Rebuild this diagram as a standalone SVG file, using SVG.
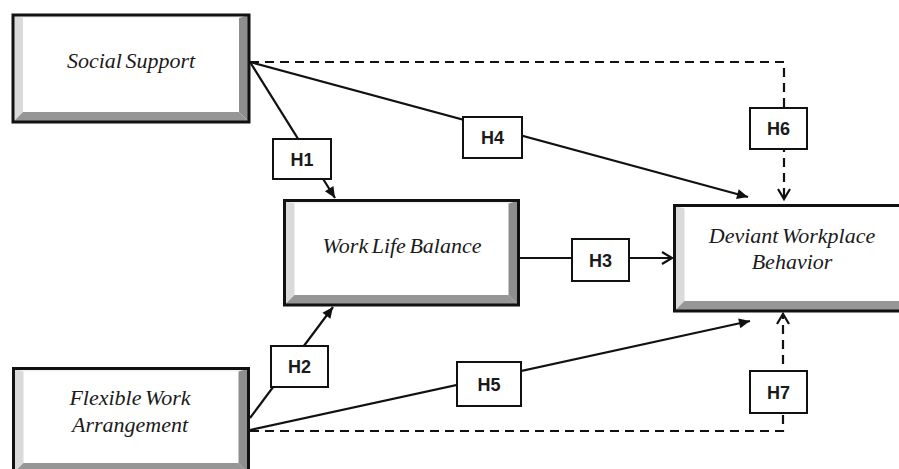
<svg xmlns="http://www.w3.org/2000/svg" width="899" height="469" viewBox="0 0 899 469">
<style>
.face{fill:#ffffff}
.bl{fill:#dadada}
.bt{fill:#f2f2f2}
.br{fill:#8e8e8e}
.bb{fill:#969696}
.border{fill:none;stroke:#111;stroke-width:3}
.lbl{font-family:"Liberation Serif","Times New Roman",serif;font-style:italic;font-size:22px;fill:#1a1a1a;text-anchor:middle;word-spacing:-2px}
.hbox{fill:#fff;stroke:#111;stroke-width:2}
.htxt{font-family:"Liberation Sans",Arial,sans-serif;font-weight:bold;font-size:18px;fill:#1a1a1a;text-anchor:middle}
.ln{fill:none;stroke:#111;stroke-width:2.2}
.dash{stroke-dasharray:9 6}
</style>
<defs>
<marker id="fa" markerUnits="userSpaceOnUse" markerWidth="12" markerHeight="12" refX="11" refY="5" orient="auto" overflow="visible">
<path d="M0,0 L11,5 L0,10 Z" fill="#111" stroke="none"/>
</marker>
<marker id="oa" markerUnits="userSpaceOnUse" markerWidth="12" markerHeight="12" refX="10" refY="6" orient="auto" overflow="visible">
<path d="M0,0 L10,6 L0,12" fill="none" stroke="#111" stroke-width="2.2" stroke-dasharray="none"/>
</marker>
</defs>

<g id="connectors">
<path class="ln" d="M250,62 L335,198" marker-end="url(#fa)"/>
<path class="ln" d="M250,62 L748,197" marker-end="url(#fa)"/>
<path class="ln dash" d="M250,62 H784 V199" marker-end="url(#oa)"/>
<path class="ln" d="M520,258 H672" marker-end="url(#oa)"/>
<path class="ln" d="M250,418 L333,307" marker-end="url(#fa)"/>
<path class="ln" d="M250,430 L750,321" marker-end="url(#fa)"/>
<path class="ln dash" d="M250,431 H783 V314" marker-end="url(#oa)"/>
</g>

<g id="social-support">
<rect class="face" x="13" y="15" width="236" height="107"/>
<polygon class="bt" points="13,15 249,15 239,18 23,18"/>
<polygon class="bl" points="13,15 23,18 23,112 13,122"/>
<polygon class="br" points="249,15 249,122 239,112 239,18"/>
<polygon class="bb" points="13,122 249,122 239,112 23,112"/>
<rect class="border" x="13" y="15" width="236" height="107"/>
<text class="lbl" x="131" y="68">Social Support</text>
</g>

<g id="work-life-balance">
<rect class="face" x="284.5" y="200.5" width="234" height="104.5"/>
<polygon class="bt" points="284.5,200.5 518.5,200.5 508.5,203.5 294.5,203.5"/>
<polygon class="bl" points="284.5,200.5 294.5,203.5 294.5,295 284.5,305"/>
<polygon class="br" points="518.5,200.5 518.5,305 508.5,295 508.5,203.5"/>
<polygon class="bb" points="284.5,305 518.5,305 508.5,295 294.5,295"/>
<rect class="border" x="284.5" y="200.5" width="234" height="104.5"/>
<text class="lbl" x="402" y="253">Work Life Balance</text>
</g>

<g id="deviant-workplace-behavior">
<rect class="face" x="674.5" y="205.5" width="240" height="105.5"/>
<polygon class="bl" points="674.5,205.5 684.5,208.5 684.5,301 674.5,311"/>
<polygon class="bb" points="674.5,311 914.5,311 904.5,301 684.5,301"/>
<rect class="border" x="674.5" y="205.5" width="240" height="105.5"/>
<text class="lbl" x="792" y="243">Deviant Workplace</text>
<text class="lbl" x="792" y="269">Behavior</text>
</g>

<g id="flexible-work-arrangement">
<rect class="face" x="13.5" y="368.5" width="235" height="110"/>
<polygon class="bt" points="13.5,368.5 248.5,368.5 238.5,371.5 23.5,371.5"/>
<polygon class="bl" points="13.5,368.5 23.5,371.5 23.5,463 13.5,473"/>
<polygon class="br" points="248.5,368.5 248.5,473 238.5,463 238.5,371.5"/>
<polygon class="bb" points="13.5,473 248.5,473 238.5,463 23.5,463"/>
<rect class="border" x="13.5" y="368.5" width="235" height="110"/>
<text class="lbl" x="130" y="405">Flexible Work</text>
<text class="lbl" x="130" y="432">Arrangement</text>
</g>

<g id="h1"><rect class="hbox" x="273" y="139" width="58" height="40"/><text class="htxt" x="302" y="165.5">H1</text></g>
<g id="h2"><rect class="hbox" x="271" y="346" width="57" height="41"/><text class="htxt" x="299.5" y="372.5">H2</text></g>
<g id="h3"><rect class="hbox" x="572" y="239" width="57" height="42"/><text class="htxt" x="600.5" y="266.5">H3</text></g>
<g id="h4"><rect class="hbox" x="463" y="117" width="59" height="41"/><text class="htxt" x="492.5" y="143.5">H4</text></g>
<g id="h5"><rect class="hbox" x="457" y="362" width="64" height="44"/><text class="htxt" x="489" y="390.5">H5</text></g>
<g id="h6"><rect class="hbox" x="750" y="108" width="57" height="41"/><text class="htxt" x="778.5" y="134.5">H6</text></g>
<g id="h7"><rect class="hbox" x="750" y="371" width="57" height="42"/><text class="htxt" x="778.5" y="398.5">H7</text></g>
</svg>
